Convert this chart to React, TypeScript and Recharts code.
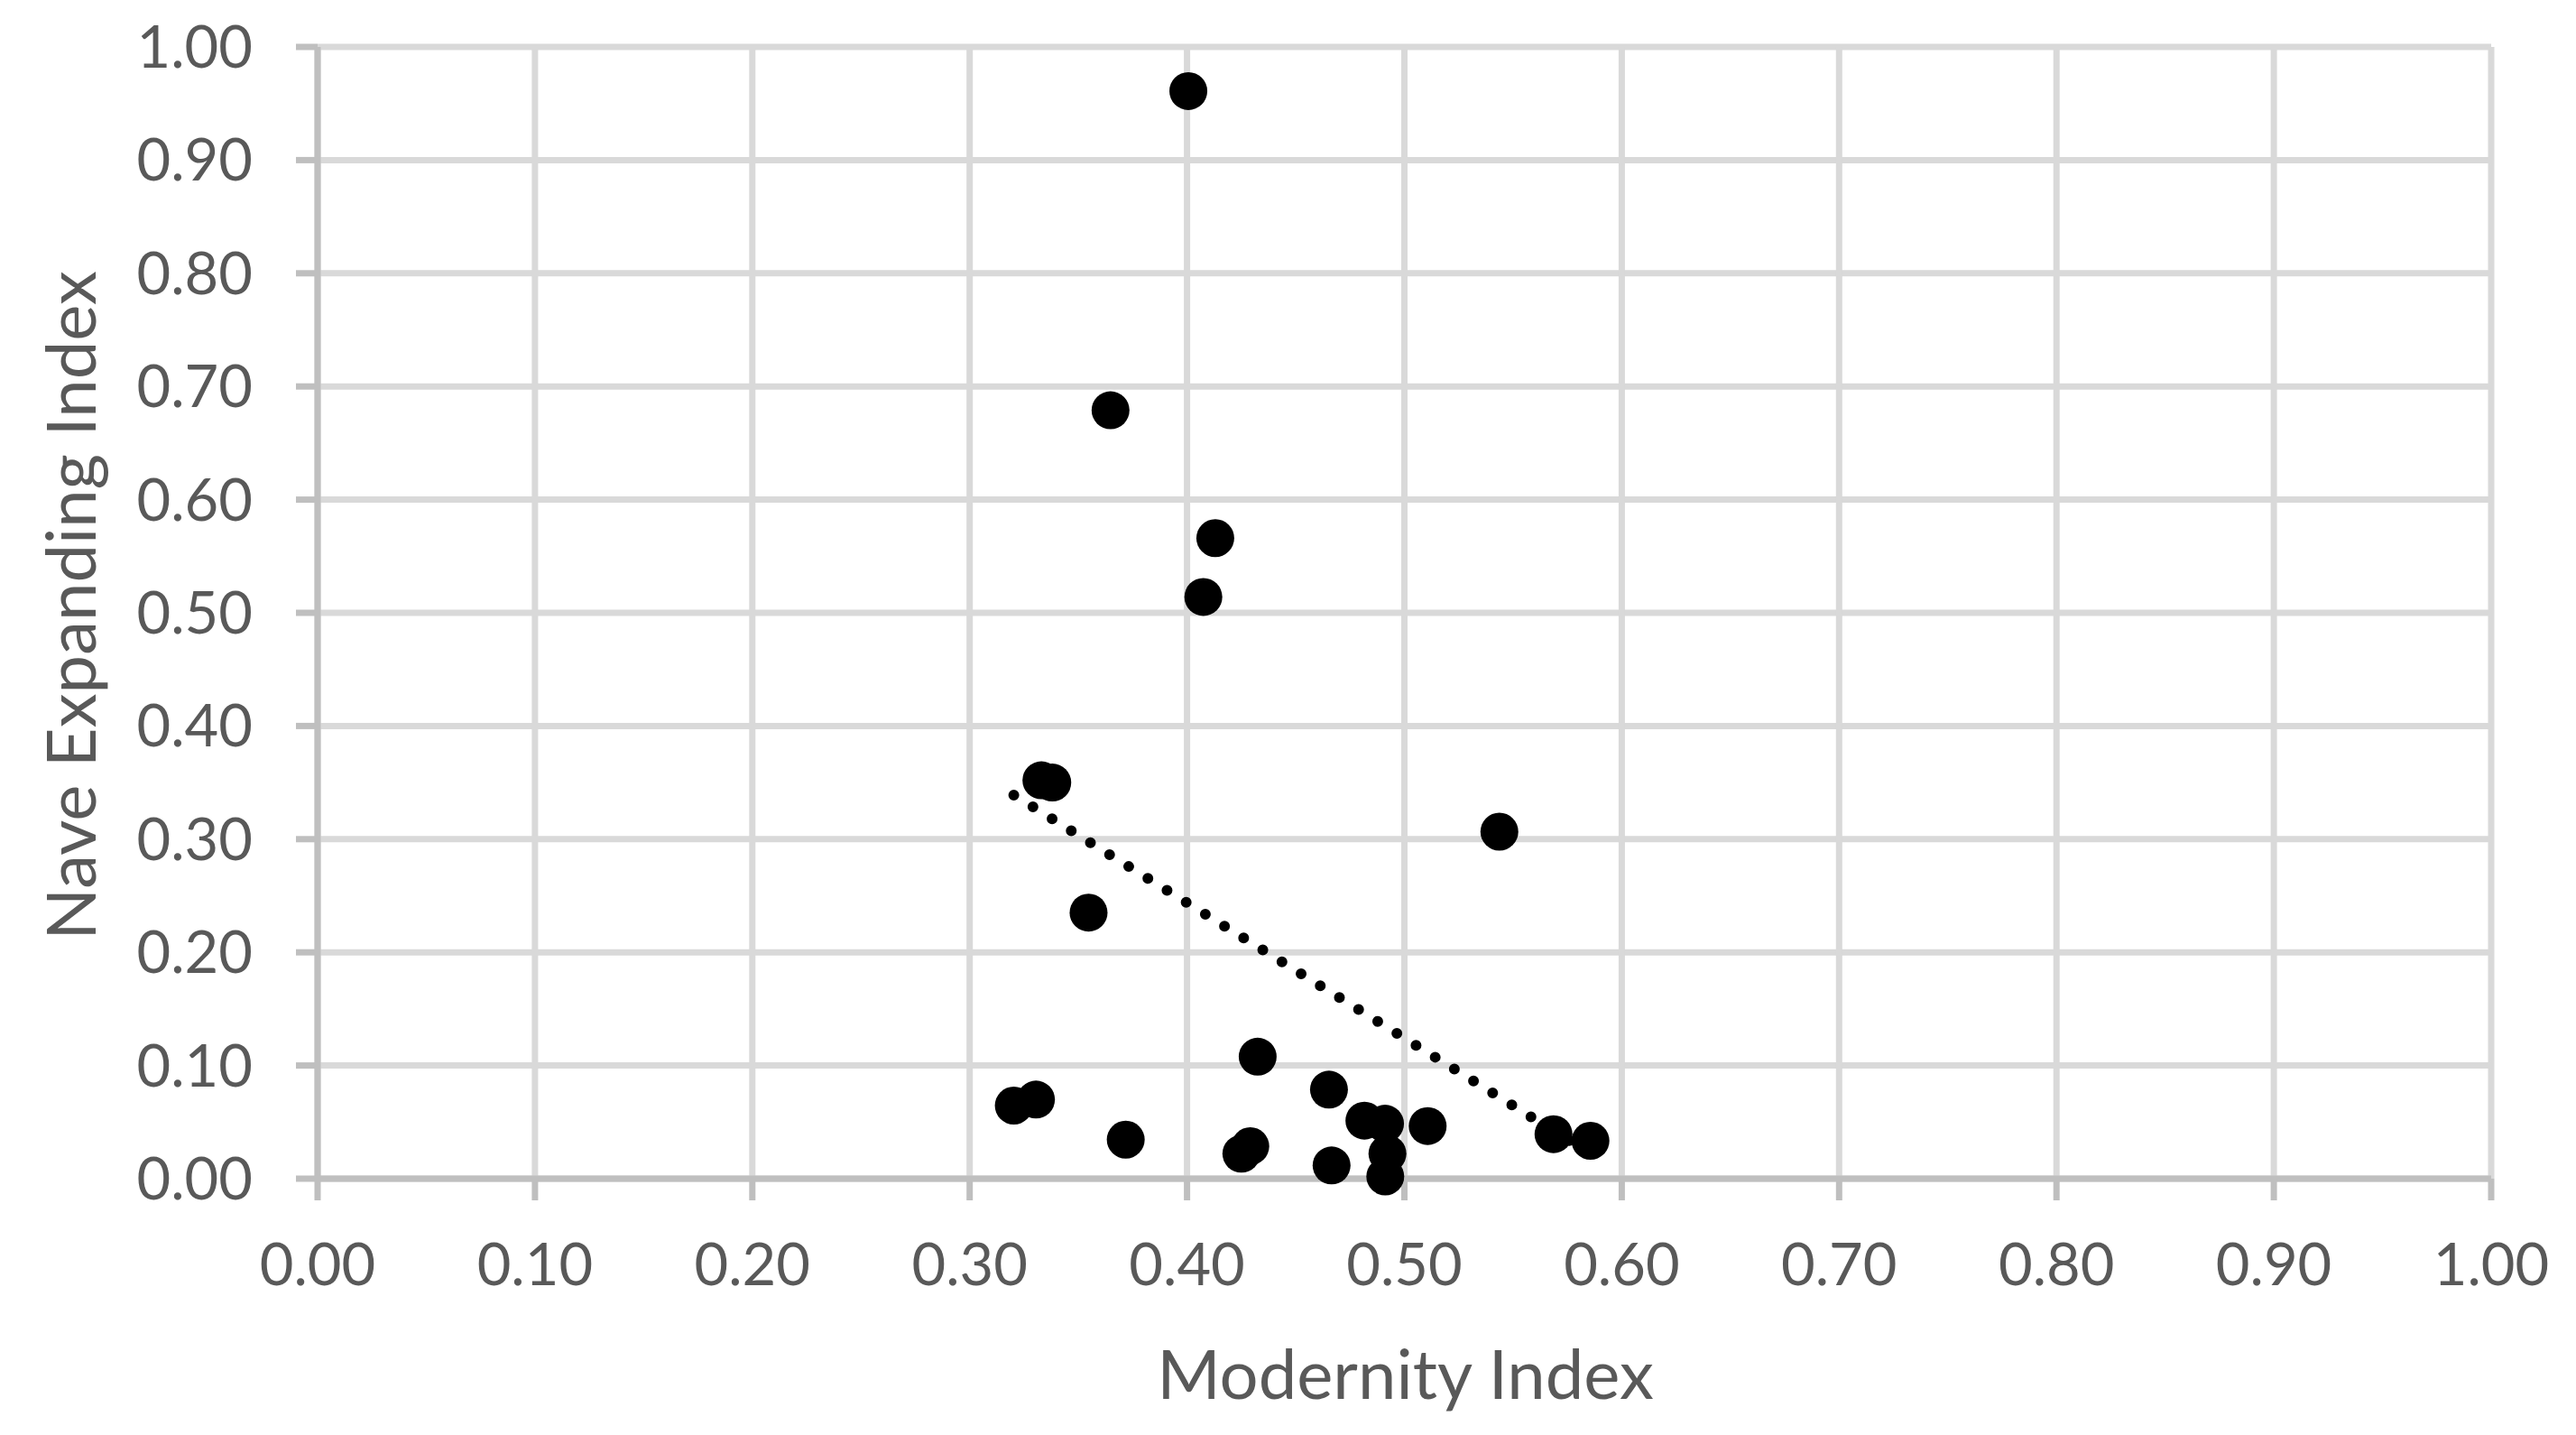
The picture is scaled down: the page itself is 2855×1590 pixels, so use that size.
import React from 'react';
import { ScatterChart, Scatter, XAxis, YAxis, CartesianGrid } from 'recharts';

const xTicks = [0, 0.1, 0.2, 0.3, 0.4, 0.5, 0.6, 0.7, 0.8, 0.9, 1.0];
const yTicks = [0, 0.1, 0.2, 0.3, 0.4, 0.5, 0.6, 0.7, 0.8, 0.9, 1.0];

const modernityIndex = [
  0.4006, 0.3648, 0.413, 0.4075, 0.333, 0.338, 0.5437, 0.3547, 0.4325, 0.4653,
  0.3203, 0.3305, 0.3718, 0.425, 0.4291, 0.4665, 0.4816, 0.4911, 0.4922, 0.4912,
  0.5107, 0.5686, 0.5856,
];
const naveExpandingIndex = [
  0.961, 0.679, 0.566, 0.514, 0.352, 0.35, 0.3066, 0.2351, 0.1078, 0.0787,
  0.0646, 0.0699, 0.0345, 0.0221, 0.0287, 0.0117, 0.0513, 0.0486, 0.0221, 0.002,
  0.0465, 0.0393, 0.0335,
];

const trendX = [0.3203, 0.5856];
const trendY = [0.339, 0.022];

const points = modernityIndex.map((x, i) => ({ x, y: naveExpandingIndex[i] }));
const trend = trendX.map((x, i) => ({ x, y: trendY[i] }));

const FONT = 'Lato, "Open Sans", sans-serif';
const TEXT = '#595959';
const AXIS = '#bfbfbf';
const GRID = '#d9d9d9';

const fmt = (v: number) => v.toFixed(2);

const XTitle = (props: any) => {
  const vb = props.viewBox || { x: 352, y: 1306, width: 2409, height: 284 };
  const cx = vb.x + vb.width / 2 + 1;
  const cy = vb.y + 244;
  return (
    <text x={cx} y={cy} textAnchor="middle" fill={TEXT} fontSize={76} fontFamily={FONT}>
      Modernity Index
    </text>
  );
};

const YTitle = (props: any) => {
  const vb = props.viewBox || { x: 0, y: 52, width: 352, height: 1254 };
  const cx = vb.x + 106;
  const cy = vb.y + vb.height / 2 - 8;
  return (
    <text
      x={cx}
      y={cy}
      transform={`rotate(-90, ${cx}, ${cy})`}
      textAnchor="middle"
      fill={TEXT}
      fontSize={76}
      fontFamily={FONT}
    >
      Nave Expanding Index
    </text>
  );
};

const Dot = (props: any) => <circle cx={props.cx} cy={props.cy} r={21} fill="#000" />;
const Nothing = () => <g />;

export default function App() {
  return (
    <div style={{ position: 'absolute', left: 0, top: 0, width: 2855, height: 1590, background: '#fff' }}>
      <ScatterChart width={2855} height={1590} margin={{ top: 52, right: 94, bottom: 0, left: 0 }}>
        <CartesianGrid stroke={GRID} strokeWidth={7} />
        <XAxis
          type="number"
          dataKey="x"
          domain={[0, 1]}
          ticks={xTicks}
          tickFormatter={fmt}
          height={284}
          tickSize={24}
          tickMargin={48}
          axisLine={{ stroke: AXIS, strokeWidth: 7 }}
          tickLine={{ stroke: AXIS, strokeWidth: 7 }}
          tick={{ fill: TEXT, fontSize: 65, fontFamily: FONT }}
          interval={0}
          label={XTitle}
        />
        <YAxis
          type="number"
          dataKey="y"
          domain={[0, 1]}
          ticks={yTicks}
          tickFormatter={fmt}
          width={352}
          tickSize={24}
          tickMargin={48}
          axisLine={{ stroke: AXIS, strokeWidth: 7 }}
          tickLine={{ stroke: AXIS, strokeWidth: 7 }}
          tick={{ fill: TEXT, fontSize: 65, fontFamily: FONT }}
          interval={0}
          label={YTitle}
        />
        <Scatter data={points} shape={Dot} isAnimationActive={false} />
        <Scatter
          data={trend}
          shape={Nothing}
          line={{ stroke: '#000', strokeWidth: 12, strokeDasharray: '0 25', strokeLinecap: 'round' }}
          isAnimationActive={false}
        />
      </ScatterChart>
    </div>
  );
}
